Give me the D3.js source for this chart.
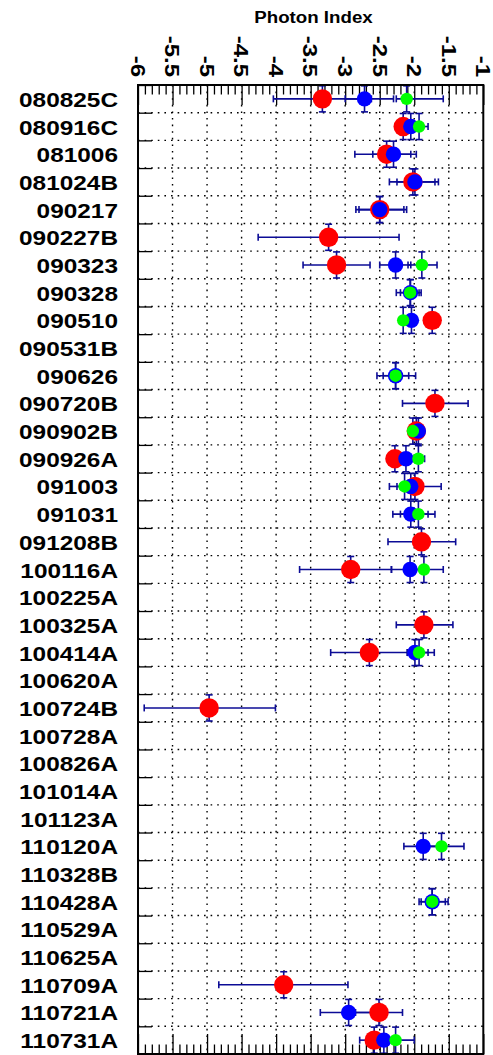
<!DOCTYPE html>
<html><head><meta charset="utf-8">
<script src="https://cdn.jsdelivr.net/npm/d3@7"></script>
<style>html,body{margin:0;padding:0;background:#fff;}svg{display:block;}</style>
</head><body>
<script>
const categories = ["080825C","080916C","081006","081024B","090217","090227B","090323","090328","090510","090531B","090626","090720B","090902B","090926A","091003","091031","091208B","100116A","100225A","100325A","100414A","100620A","100724B","100728A","100826A","101014A","101123A","110120A","110328B","110428A","110529A","110625A","110709A","110721A","110731A"];

// [category, value, low, high]
const redPoints = [
  ["080825C",-3.33,-4.04,-2.62],["080916C",-2.16,-2.21,-2.11],["081006",-2.40,-2.86,-2.05],
  ["081024B",-2.02,-2.36,-1.70],["090217",-2.50,-2.845,-2.15],["090227B",-3.24,-4.26,-2.22],
  ["090323",-3.125,-3.61,-2.64],["090510",-1.74,-1.76,-1.72],["090720B",-1.70,-2.17,-1.22],
  ["090902B",-1.97,-2.02,-1.92],["090926A",-2.28,-2.30,-2.26],["091003",-1.99,-2.25,-1.61],
  ["091208B",-1.895,-2.38,-1.40],["100116A",-2.92,-3.66,-2.33],["100325A",-1.86,-2.26,-1.44],
  ["100414A",-2.65,-3.21,-2.10],["100724B",-4.97,-5.91,-4.01],["110709A",-3.89,-4.83,-2.96],
  ["110721A",-2.51,-2.85,-2.17],["110731A",-2.58,-2.79,-2.40]
];
const bluePoints = [
  ["080825C",-2.72,-3.00,-2.30],["080916C",-2.05,-2.12,-1.99],["081006",-2.30,-2.60,-1.97],
  ["081024B",-1.99,-2.25,-1.65],["090217",-2.50,-2.80,-2.11],["090323",-2.27,-2.50,-2.05],
  ["090328",-2.054,-2.26,-1.90],["090510",-2.04,-2.06,-2.02],["090626",-2.27,-2.54,-1.98],
  ["090902B",-1.94,-1.99,-1.90],["090926A",-2.12,-2.15,-2.09],["091003",-2.05,-2.20,-1.90],
  ["091031",-2.05,-2.31,-1.80],["100116A",-2.06,-2.33,-1.80],["100414A",-1.99,-2.10,-1.80],
  ["110120A",-1.87,-2.15,-1.60],["110428A",-1.74,-1.93,-1.51],["110721A",-2.95,-3.36,-2.55],
  ["110731A",-2.44,-2.60,-2.30]
];
const greenPoints = [
  ["080825C",-2.11,-2.26,-1.58],["080916C",-1.93,-2.02,-1.80],["090323",-1.89,-2.09,-1.67],
  ["090328",-2.06,-2.20,-1.93],["090510",-2.16,-2.18,-2.14],["090626",-2.27,-2.45,-2.08],
  ["090902B",-2.02,-2.05,-1.99],["090926A",-1.94,-1.98,-1.85],["091003",-2.14,-2.36,-1.97],
  ["091031",-1.94,-2.20,-1.70],["100116A",-1.86,-2.05,-1.58],["100414A",-1.93,-2.05,-1.71],
  ["110120A",-1.605,-1.85,-1.28],["110428A",-1.74,-1.90,-1.55],["110731A",-2.27,-2.50,-2.00]
];
const majorTicks = [-6,-5.5,-5,-4.5,-4,-3.5,-3,-2.5,-2,-1.5,-1];
const tickLabels = ["-6","-5.5","-5","-4.5","-4","-3.5","-3","-2.5","-2","-1.5","-1"];
const xTitle = "Photon Index";

const W = 493, H = 1055;
const X0 = 138, X1 = 483.3, Y0 = 85, Y1 = 1054;
const svg = d3.select("body").append("svg").attr("width", W).attr("height", H);

const x = d3.scaleLinear().domain([-6, -1]).range([X0, X1]);
const yb = d3.scaleBand().domain(categories).range([Y0, Y1]).padding(0);
const ye = d3.scaleLinear().domain([0, categories.length]).range([Y0, Y1]);

const font = "'Liberation Sans', Arial, Helvetica, sans-serif";
const navy = "#0c0c96";

// grid
const grid = svg.append("g");
grid.selectAll("line.v").data(majorTicks.slice(1, -1)).join("line")
  .attr("x1", d => x(d)).attr("x2", d => x(d)).attr("y1", Y0).attr("y2", Y1)
  .attr("stroke", "#000").attr("stroke-width", 1.4).attr("stroke-dasharray", "1.6,5");
grid.selectAll("line.h").data(d3.range(1, categories.length)).join("line")
  .attr("x1", X0).attr("x2", X1).attr("y1", d => ye(d)).attr("y2", d => ye(d))
  .attr("stroke", "#000").attr("stroke-width", 1.4).attr("stroke-dasharray", "1.6,5");

// minor / major ticks top & bottom
const minorVals = d3.range(0, 51).map(i => -6 + i * 0.1).filter(v => Math.abs(v * 2 - Math.round(v * 2)) > 1e-6);
function styleAxis(g) {
  g.select(".domain").remove();
  g.selectAll(".tick line").attr("stroke", "#000").attr("stroke-width", 1.3);
  g.selectAll(".tick text").remove();
}
svg.append("g").attr("transform", `translate(0,${Y0})`)
  .call(d3.axisTop(x).tickValues(minorVals).tickSize(-9.5).tickFormat("")).call(styleAxis);
svg.append("g").attr("transform", `translate(0,${Y0})`)
  .call(d3.axisTop(x).tickValues(majorTicks).tickSize(-20).tickFormat("")).call(styleAxis);
svg.append("g").attr("transform", `translate(0,${Y1})`)
  .call(d3.axisBottom(x).tickValues(minorVals).tickSize(-9.5).tickFormat("")).call(styleAxis);
svg.append("g").attr("transform", `translate(0,${Y1})`)
  .call(d3.axisBottom(x).tickValues(majorTicks).tickSize(-20).tickFormat("")).call(styleAxis);
// left ticks at bin edges
svg.append("g").attr("transform", `translate(${X0},0)`)
  .call(d3.axisLeft(ye).tickValues(d3.range(0, categories.length + 1)).tickSize(-14).tickFormat("")).call(styleAxis);

// tick labels (rotated)
svg.append("g").selectAll("text").data(majorTicks).join("text")
  .attr("transform", d => `translate(${x(d)},77) rotate(90) scale(1.2,1)`)
  .attr("text-anchor", "end").attr("dy", "0.36em")
  .attr("font-family", font).attr("font-weight", "bold").attr("font-size", 20)
  .text((d, i) => tickLabels[i]);

// category labels
svg.append("g").selectAll("text").data(categories).join("text")
  .attr("transform", d => `translate(118,${yb(d) + yb.bandwidth() / 2}) scale(1.22,1)`)
  .attr("text-anchor", "end").attr("dy", "0.4em")
  .attr("font-family", font).attr("font-weight", "bold").attr("font-size", 20)
  .text(d => d);

// title
svg.append("text").attr("transform", "translate(313.5,23.3) scale(1.1,1)")
  .attr("text-anchor", "middle").attr("font-family", font).attr("font-weight", "bold")
  .attr("font-size", 17).text(xTitle);

// error bars
const series = [
  {pts: redPoints, color: "#ff0000", r: 9.7},
  {pts: bluePoints, color: "#0000ff", r: 7.7},
  {pts: greenPoints, color: "#00ff00", r: 6.2}
];
const eb = svg.append("g").attr("stroke", navy).attr("stroke-width", 1.6).attr("fill", "none");
series.forEach(s => {
  s.pts.forEach(p => {
    const cy = yb(p[0]) + yb.bandwidth() / 2;
    const top = yb(p[0]), bot = yb(p[0]) + yb.bandwidth();
    const cx = x(p[1]), xl = x(p[2]), xh = x(p[3]);
    eb.append("line").attr("x1", xl).attr("x2", xh).attr("y1", cy).attr("y2", cy);
    eb.append("line").attr("x1", xl).attr("x2", xl).attr("y1", cy - 3.5).attr("y2", cy + 3.5);
    eb.append("line").attr("x1", xh).attr("x2", xh).attr("y1", cy - 3.5).attr("y2", cy + 3.5);
    eb.append("line").attr("x1", cx).attr("x2", cx).attr("y1", top + 0.5).attr("y2", bot - 0.5);
    eb.append("line").attr("x1", cx - 3.5).attr("x2", cx + 3.5).attr("y1", top + 0.8).attr("y2", top + 0.8);
    eb.append("line").attr("x1", cx - 3.5).attr("x2", cx + 3.5).attr("y1", bot - 0.8).attr("y2", bot - 0.8);
  });
});
// markers
series.forEach(s => {
  svg.append("g").selectAll("circle").data(s.pts).join("circle")
    .attr("cx", p => x(p[1])).attr("cy", p => yb(p[0]) + yb.bandwidth() / 2)
    .attr("r", s.r).attr("fill", s.color);
});

// frame
svg.append("rect").attr("x", X0).attr("y", Y0).attr("width", X1 - X0).attr("height", Y1 - Y0)
  .attr("fill", "none").attr("stroke", "#000").attr("stroke-width", 2);
</script>
</body></html>
